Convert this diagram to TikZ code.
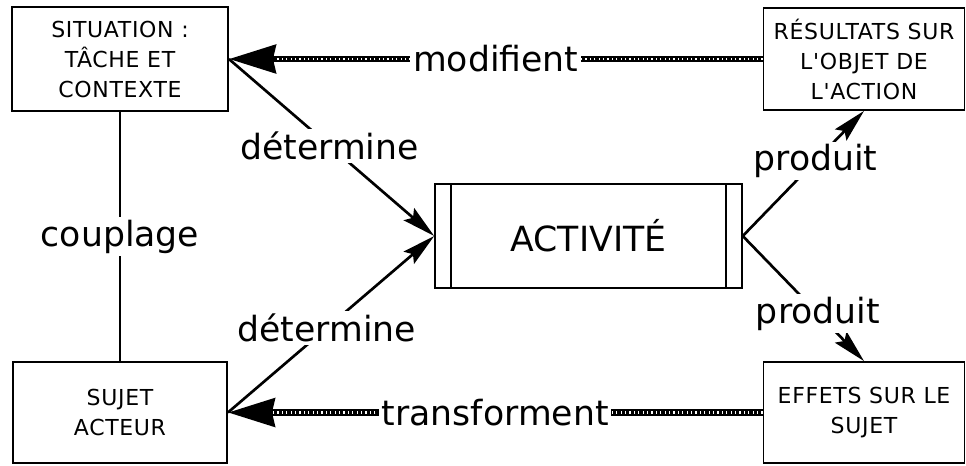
\documentclass[tikz,border=0pt]{standalone}
\usepackage{fontspec}
\setmainfont{DejaVu Sans}
\newfontfamily\boitefont[LetterSpace=3]{DejaVu Sans}
\usetikzlibrary{positioning, arrows.meta}

\begin{document}
\begin{tikzpicture}[x=0.75pt,y=-0.75pt]
			\tikzstyle{bloc}=[draw=black,line width=1.4pt,fill=white,align=center,inner sep=2pt,font=\boitefont\fontsize{16.5}{22.5}\selectfont]
			\tikzstyle{etiq}=[fill=white,inner sep=2pt,font=\fontsize{26}{30}\selectfont]
			\tikzstyle{fleche}=[draw,line width=2pt,-{Stealth[length=25pt,width=12pt,inset=4pt]}]
			\tikzstyle{hachure}=[draw,line width=5pt,-{Stealth[length=35pt,width=21pt,inset=2pt]},
				postaction={draw=white,-,line width=2pt,dash pattern=on 0.9pt off 2.4pt,shorten >=34pt}]
			\useasboundingbox (0,0) rectangle (966,465);
			\node[bloc,minimum width=162pt,minimum height=78pt](sit) at (120,59) {SITUATION :\\TÂCHE ET\\CONTEXTE};
			\node[bloc,minimum width=150.75pt,minimum height=76.5pt](res) at (864,59) {RÉSULTATS SUR\\L'OBJET DE\\L'ACTION};
			\node[bloc,minimum width=230pt,minimum height=78pt,font=\fontsize{26}{30}\selectfont](act) at (588.5,236) {ACTIVITÉ};
			\node[bloc,minimum width=160.5pt,minimum height=75.75pt](suj) at (120,412.5) {SUJET\\ACTEUR};
			\node[bloc,minimum width=150.75pt,minimum height=75.75pt](eff) at (864,412.5) {EFFETS SUR LE\\SUJET};
			% barres laterales de l'activite
			\draw[line width=1.4pt] ([xshift=12.75pt]act.north west) -- ([xshift=12.75pt]act.south west);
			\draw[line width=1.4pt] ([xshift=-12.75pt]act.north east) -- ([xshift=-12.75pt]act.south east);
			\path
				(sit) edge[draw,line width=1.5pt] node[etiq] {couplage} (suj)
				(res) edge[hachure] node[etiq] {modifient} (sit)
				(eff) edge[hachure] node[etiq] {transforment} (suj)
				(sit.east) edge[fleche] node[etiq,pos=0.49] {détermine} (act.west)
				(suj.east) edge[fleche] node[etiq,pos=0.48] {détermine} (act.west)
				(act.east) edge[fleche] node[etiq,pos=0.6] {produit} (res.south)
				(act.east) edge[fleche] node[etiq,pos=0.62] {produit} (eff.north);
		\end{tikzpicture}
\end{document}
